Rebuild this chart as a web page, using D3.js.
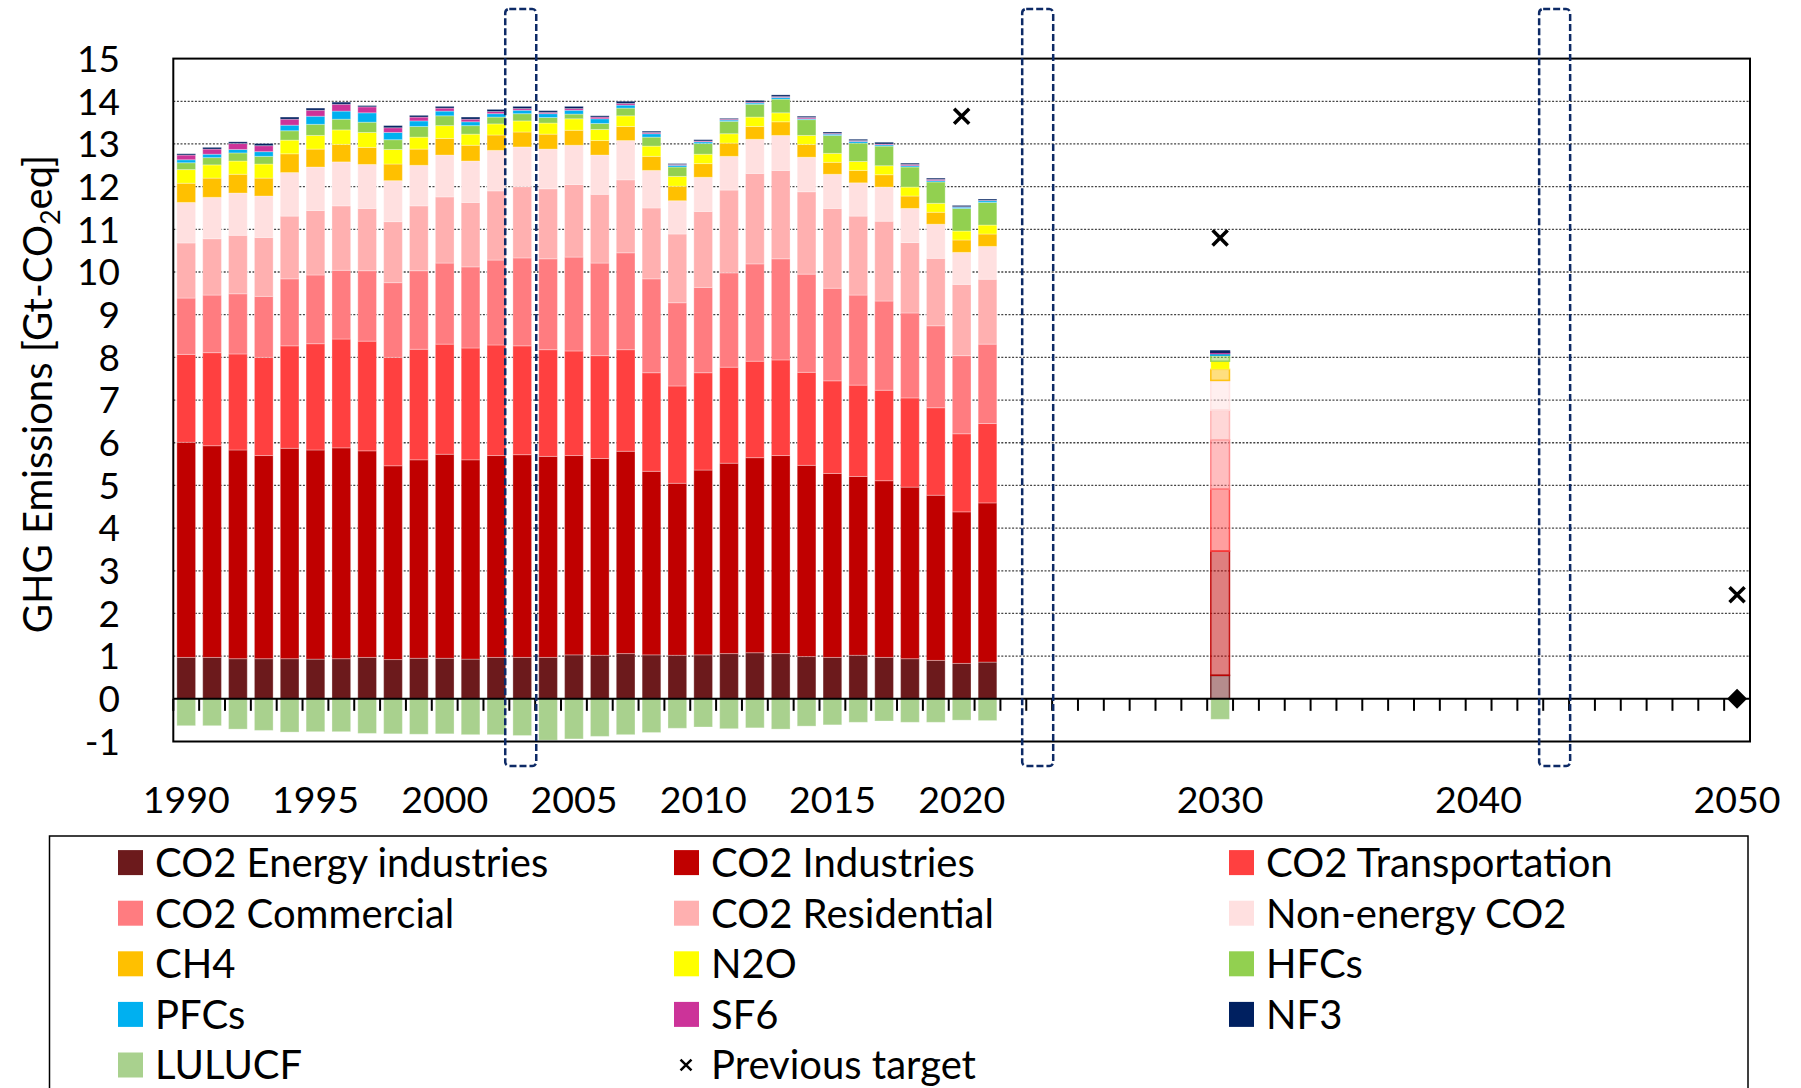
<!DOCTYPE html>
<html>
<head>
<meta charset="utf-8">
<script src="https://cdn.jsdelivr.net/npm/d3@7"></script>
<style>
  body { margin: 0; background: #fff; }
  text { font-family: Lato, "Open Sans", sans-serif; fill: #000; }
</style>
</head>
<body>
<svg id="chart" width="1801" height="1088"></svg>
<script>
// inventory years + 2030 target bar
const years = [1990, 1991, 1992, 1993, 1994, 1995, 1996, 1997, 1998, 1999,
    2000, 2001, 2002, 2003, 2004, 2005, 2006, 2007, 2008, 2009,
    2010, 2011, 2012, 2013, 2014, 2015, 2016, 2017, 2018, 2019,
    2020, 2021, 2030]
const projectedYears = [2030]
const solidInProjection = ['n2o', 'lulucf']

// Gt-CO2eq per source
const co2Energy = [0.97, 0.97, 0.94, 0.94, 0.94, 0.93, 0.94, 0.97, 0.92, 0.95,
    0.95, 0.93, 0.97, 0.97, 0.97, 1.03, 1.02, 1.06, 1.03, 1.02,
    1.03, 1.06, 1.08, 1.06, 0.99, 0.97, 1.02, 0.97, 0.94, 0.90,
    0.83, 0.86, 0.55]
const co2Industries = [5.04, 4.96, 4.89, 4.76, 4.93, 4.90, 4.94, 4.84, 4.54, 4.65,
    4.78, 4.67, 4.73, 4.75, 4.71, 4.67, 4.61, 4.74, 4.30, 4.03,
    4.33, 4.46, 4.57, 4.64, 4.48, 4.31, 4.19, 4.14, 4.02, 3.87,
    3.55, 3.73, 2.91]
const co2Transport = [2.06, 2.18, 2.25, 2.30, 2.40, 2.49, 2.55, 2.57, 2.54, 2.59,
    2.58, 2.62, 2.59, 2.55, 2.50, 2.45, 2.41, 2.38, 2.31, 2.28,
    2.28, 2.25, 2.26, 2.24, 2.18, 2.17, 2.14, 2.12, 2.09, 2.05,
    1.83, 1.86, 1.45]
const co2Commercial = [1.32, 1.35, 1.41, 1.43, 1.57, 1.61, 1.61, 1.65, 1.75, 1.84,
    1.90, 1.90, 1.99, 2.06, 2.13, 2.20, 2.17, 2.27, 2.20, 1.95,
    2.00, 2.21, 2.28, 2.37, 2.30, 2.17, 2.11, 2.09, 1.99, 1.92,
    1.83, 1.86, 1.16]
const co2Residential = [1.29, 1.32, 1.37, 1.38, 1.47, 1.51, 1.51, 1.46, 1.43, 1.52,
    1.55, 1.51, 1.62, 1.67, 1.64, 1.70, 1.61, 1.71, 1.66, 1.61,
    1.78, 1.94, 2.12, 2.07, 1.93, 1.87, 1.85, 1.87, 1.65, 1.58,
    1.67, 1.52, 0.69]
const co2NonEnergy = [0.95, 0.97, 0.99, 0.97, 1.02, 1.02, 1.03, 1.03, 0.96, 0.95,
    0.98, 0.97, 0.95, 0.93, 0.93, 0.92, 0.92, 0.92, 0.88, 0.78,
    0.80, 0.79, 0.80, 0.82, 0.81, 0.80, 0.78, 0.80, 0.80, 0.80,
    0.75, 0.77, 0.70]
const ch4 = [0.45, 0.45, 0.44, 0.42, 0.44, 0.42, 0.41, 0.40, 0.39, 0.38,
    0.39, 0.37, 0.36, 0.35, 0.35, 0.35, 0.34, 0.33, 0.33, 0.34,
    0.32, 0.31, 0.30, 0.32, 0.30, 0.28, 0.29, 0.29, 0.29, 0.28,
    0.29, 0.29, 0.26]
const n2o = [0.32, 0.31, 0.31, 0.33, 0.32, 0.32, 0.34, 0.35, 0.34, 0.28,
    0.30, 0.26, 0.26, 0.26, 0.26, 0.27, 0.26, 0.25, 0.24, 0.23,
    0.22, 0.22, 0.22, 0.21, 0.21, 0.21, 0.21, 0.21, 0.21, 0.21,
    0.21, 0.21, 0.19]
const hfcs = [0.16, 0.17, 0.19, 0.18, 0.22, 0.26, 0.25, 0.24, 0.23, 0.25,
    0.23, 0.20, 0.16, 0.17, 0.13, 0.11, 0.14, 0.18, 0.21, 0.22,
    0.25, 0.29, 0.30, 0.32, 0.37, 0.42, 0.43, 0.46, 0.47, 0.50,
    0.53, 0.53, 0.14]
const pfcs = [0.07, 0.08, 0.08, 0.11, 0.13, 0.19, 0.19, 0.22, 0.17, 0.13,
    0.11, 0.09, 0.08, 0.08, 0.09, 0.09, 0.11, 0.07, 0.08, 0.04,
    0.04, 0.03, 0.03, 0.04, 0.02, 0.03, 0.04, 0.03, 0.03, 0.03,
    0.03, 0.04, 0.04]
const sf6 = [0.11, 0.12, 0.14, 0.14, 0.14, 0.14, 0.16, 0.14, 0.11, 0.09,
    0.07, 0.06, 0.05, 0.04, 0.03, 0.04, 0.04, 0.04, 0.03, 0.02,
    0.02, 0.02, 0.02, 0.02, 0.03, 0.02, 0.02, 0.02, 0.03, 0.03,
    0.01, 0.01, 0.03]
const nf3 = [0.03, 0.04, 0.04, 0.05, 0.05, 0.05, 0.05, 0.03, 0.05, 0.04,
    0.04, 0.05, 0.05, 0.05, 0.04, 0.05, 0.03, 0.05, 0.03, 0.02,
    0.03, 0.02, 0.04, 0.04, 0.03, 0.03, 0.03, 0.04, 0.03, 0.03,
    0.03, 0.03, 0.03]
const lulucf = [-0.63, -0.63, -0.71, -0.74, -0.78, -0.77, -0.77, -0.81, -0.82, -0.83,
    -0.82, -0.84, -0.84, -0.86, -0.97, -0.94, -0.88, -0.84, -0.79, -0.69,
    -0.66, -0.70, -0.68, -0.71, -0.64, -0.61, -0.55, -0.52, -0.55, -0.55,
    -0.50, -0.51, -0.48]

// markers
const targetYears = [2020, 2030, 2050]
const targetValues = [13.65, 10.80, 2.44]
const netZeroYears = [2050]
const netZeroValues = [0]
const highlightYears = [2003, 2023, 2043]

// axes
const axisYears = d3.range(1990, 2051)
const xTickYears = [1990, 1995, 2000, 2005, 2010, 2015, 2020, 2030, 2040, 2050]
const yTickValues = [-1, 0, 1, 2, 3, 4, 5, 6, 7, 8, 9, 10, 11, 12, 13, 14, 15]
const gridValues = [1, 2, 3, 4, 5, 6, 7, 8, 9, 10, 11, 12, 13, 14]

const layers = [
    { key: 'energy', label: 'CO2 Energy industries', color: '#6C1A1C', values: co2Energy },
    { key: 'industries', label: 'CO2 Industries', color: '#C00000', values: co2Industries },
    { key: 'transport', label: 'CO2 Transportation', color: '#FF4040', values: co2Transport },
    { key: 'commercial', label: 'CO2 Commercial', color: '#FF7C80', values: co2Commercial },
    { key: 'residential', label: 'CO2 Residential', color: '#FFB0B0', values: co2Residential },
    { key: 'nonenergy', label: 'Non-energy CO2', color: '#FFE0E0', values: co2NonEnergy },
    { key: 'ch4', label: 'CH4', color: '#FFC000', values: ch4 },
    { key: 'n2o', label: 'N2O', color: '#FFFF00', values: n2o },
    { key: 'hfcs', label: 'HFCs', color: '#92D050', values: hfcs },
    { key: 'pfcs', label: 'PFCs', color: '#00B0F0', values: pfcs },
    { key: 'sf6', label: 'SF6', color: '#CC3399', values: sf6 },
    { key: 'nf3', label: 'NF3', color: '#002060', values: nf3 },
    { key: 'lulucf', label: 'LULUCF', color: '#A9D18E', values: lulucf }
]

const layout = {
    width: 1801, height: 1088,
    left: 173.3, right: 1750, top: 58.6, bottom: 741.5
}

const svg = d3.select('#chart')

const xScale = d3.scaleBand()
    .domain(axisYears)
    .range([layout.left, layout.right])
    .paddingInner(0.277)
    .paddingOuter(0.1385)

const yScale = d3.scaleLinear()
    .domain([-1, 15])
    .range([layout.bottom, layout.top])

const bw = xScale.bandwidth()
const step = xScale.step()
const xc = y => xScale(y) + bw / 2

// gridlines
svg.append('g')
    .selectAll('line')
    .data(gridValues)
    .join('line')
    .attr('x1', layout.left)
    .attr('x2', layout.right)
    .attr('y1', d => yScale(d))
    .attr('y2', d => yScale(d))
    .attr('stroke', '#444')
    .attr('stroke-width', 1.3)
    .attr('stroke-dasharray', '2,1.6')

// stacked bars
const rows = years.map((yr, i) => {
    const row = { year: yr }
    layers.forEach(l => { row[l.key] = l.values[i] })
    return row
})

const stacked = d3.stack()
    .keys(layers.map(l => l.key))
    .offset(d3.stackOffsetDiverging)(rows)

const colorOf = d3.scaleOrdinal()
    .domain(layers.map(l => l.key))
    .range(layers.map(l => l.color))

const faded = d => projectedYears.includes(d.p.data.year) && !solidInProjection.includes(d.key)

svg.append('g')
    .selectAll('g')
    .data(stacked)
    .join('g')
    .attr('fill', d => colorOf(d.key))
    .selectAll('rect')
    .data(d => d.map(p => ({ p, key: d.key })))
    .join('rect')
    .attr('x', d => xScale(d.p.data.year))
    .attr('width', bw)
    .attr('y', d => yScale(Math.max(d.p[0], d.p[1])))
    .attr('height', d => Math.abs(yScale(d.p[0]) - yScale(d.p[1])))
    .attr('fill-opacity', d => faded(d) ? 0.5 : 1)
    .attr('stroke', d => faded(d) ? colorOf(d.key) : '#fff')
    .attr('stroke-opacity', d => faded(d) ? 0.9 : 0.3)
    .attr('stroke-width', d => faded(d) ? 1.5 : 1)

// zero line with a tick at every category boundary
const zeroY = yScale(0)
svg.append('line')
    .attr('x1', layout.left).attr('x2', layout.right)
    .attr('y1', zeroY).attr('y2', zeroY)
    .attr('stroke', '#000').attr('stroke-width', 2)

svg.append('g')
    .selectAll('line')
    .data(axisYears)
    .join('line')
    .attr('x1', d => xc(d) - step / 2)
    .attr('x2', d => xc(d) - step / 2)
    .attr('y1', zeroY)
    .attr('y2', zeroY + 12)
    .attr('stroke', '#000')
    .attr('stroke-width', 2)

// plot frame
svg.append('rect')
    .attr('x', layout.left).attr('y', layout.top)
    .attr('width', layout.right - layout.left)
    .attr('height', layout.bottom - layout.top)
    .attr('fill', 'none')
    .attr('stroke', '#000')
    .attr('stroke-width', 2)

// previous targets (x) and net zero (diamond)
svg.append('g')
    .selectAll('path')
    .data(targetYears.map((yr, i) => ({ yr, v: targetValues[i] })))
    .join('path')
    .attr('d', d3.symbol(d3.symbolX, 150))
    .attr('transform', d => `translate(${xc(d.yr)},${yScale(d.v)})`)
    .attr('fill', 'none')
    .attr('stroke', '#000')
    .attr('stroke-width', 3.5)

svg.append('g')
    .selectAll('path')
    .data(netZeroYears.map((yr, i) => ({ yr, v: netZeroValues[i] })))
    .join('path')
    .attr('d', d3.symbol(d3.symbolSquare, 200))
    .attr('transform', d => `translate(${xc(d.yr)},${yScale(d.v)}) rotate(45)`)
    .attr('fill', '#000')

// dashed highlight boxes
svg.append('g')
    .selectAll('rect')
    .data(highlightYears)
    .join('rect')
    .attr('x', d => xc(d) - 17)
    .attr('width', 31)
    .attr('y', 9)
    .attr('height', 757)
    .attr('rx', 4)
    .attr('fill', 'none')
    .attr('stroke', '#0D2A66')
    .attr('stroke-width', 2.5)
    .attr('stroke-dasharray', '7,3')

// y axis labels
svg.append('g')
    .selectAll('text')
    .data(yTickValues)
    .join('text')
    .attr('x', 120)
    .attr('y', d => yScale(d))
    .attr('dy', '0.36em')
    .attr('text-anchor', 'end')
    .attr('font-size', 37)
    .text(d => d)

// x axis labels
svg.append('g')
    .selectAll('text')
    .data(xTickYears)
    .join('text')
    .attr('x', d => xc(d))
    .attr('y', 799)
    .attr('dy', '0.36em')
    .attr('text-anchor', 'middle')
    .attr('font-size', 37.5)
    .text(d => d)

// y title
const title = svg.append('text')
    .attr('transform', 'translate(38,394) rotate(-90)')
    .attr('text-anchor', 'middle')
    .attr('dy', '0.36em')
    .attr('font-size', 40)
title.append('tspan').text('GHG Emissions [Gt-CO')
title.append('tspan').attr('font-size', 27).attr('dy', 8).text('2')
title.append('tspan').attr('dy', -8).text('eq]')

// legend
svg.append('rect')
    .attr('x', 49.5).attr('y', 836)
    .attr('width', 1698.5).attr('height', 300)
    .attr('fill', 'none')
    .attr('stroke', '#000')
    .attr('stroke-width', 1.5)

const legendItems = [...layers.map(l => ({ label: l.label, color: l.color })),
    { label: 'Previous target', marker: 'x' }]
const legendCols = [118, 674, 1229]

const item = svg.append('g')
    .selectAll('g')
    .data(legendItems)
    .join('g')
    .attr('transform', (d, i) => `translate(${legendCols[i % 3]},${862.6 + Math.floor(i / 3) * 50.6})`)

item.filter(d => !d.marker)
    .append('rect')
    .attr('x', 0).attr('y', -12.5)
    .attr('width', 25).attr('height', 25)
    .attr('fill', d => d.color)

item.filter(d => d.marker)
    .append('path')
    .attr('d', d3.symbol(d3.symbolX, 80))
    .attr('transform', 'translate(12,0)')
    .attr('fill', 'none')
    .attr('stroke', '#000')
    .attr('stroke-width', 2.5)

item.append('text')
    .attr('x', 37)
    .attr('dy', '0.36em')
    .attr('font-size', 40)
    .text(d => d.label)
</script>
</body>
</html>
